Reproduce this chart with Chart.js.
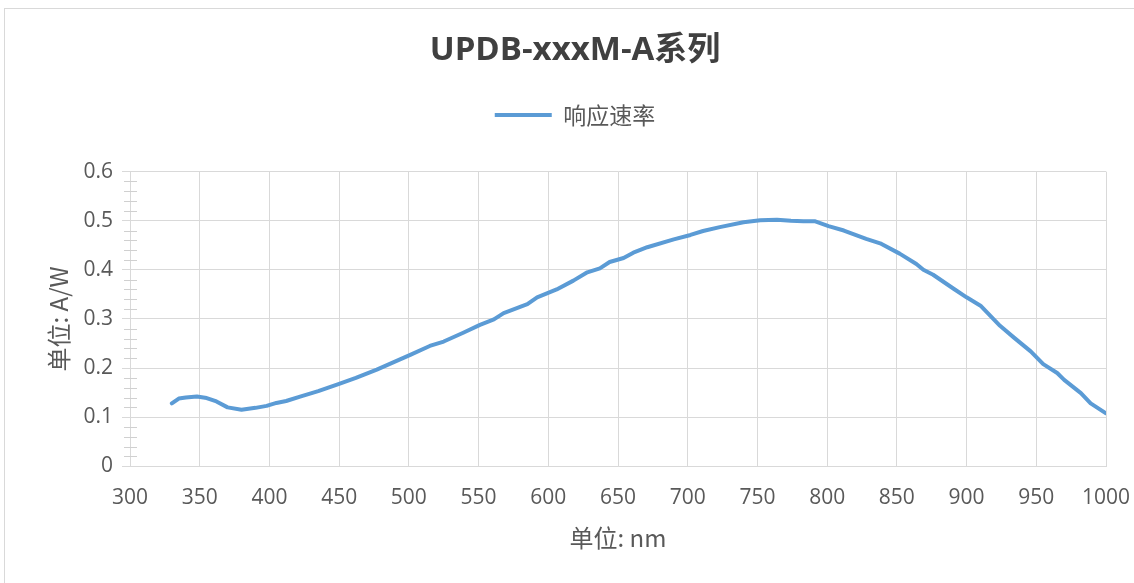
<!DOCTYPE html>
<html>
<head>
<meta charset="utf-8">
<script src="https://cdn.jsdelivr.net/npm/chart.js@4.4.1/dist/chart.umd.min.js"></script>
<style>
html,body{margin:0;padding:0;background:#fff;overflow:hidden;}
#wrap{position:relative;width:1134px;height:583px;overflow:hidden;}
#frame{position:absolute;left:4px;top:8px;width:1200px;height:700px;border:1px solid #d9d9d9;box-sizing:border-box;}
canvas{position:absolute;left:0;top:0;}
</style>
</head>
<body>
<div id="wrap"><div id="frame"></div><canvas id="c" width="1150" height="583"></canvas></div>
<script>
const chartTitle = 'UPDB-xxxM-A系列';
const seriesName = '响应速率';
const xAxisTitle = '单位: nm';
const yAxisTitle = '单位: A/W';

const wavelengths = [330, 335, 340, 348, 355, 362, 370, 380, 390, 398, 405, 412, 422, 435, 450, 462, 477, 490, 501, 515, 525, 539, 551, 561, 568, 585, 592, 606, 618, 628, 637, 644, 654, 661, 671, 690, 702, 711, 723, 740, 752, 764, 774, 783, 791, 801, 812, 828, 838, 852, 864, 869, 876, 891, 900, 910, 924, 934, 946, 955, 965, 970, 982, 989, 1000];
const responsivity = [0.128, 0.138, 0.140, 0.142, 0.139, 0.132, 0.120, 0.115, 0.119, 0.123, 0.129, 0.133, 0.142, 0.153, 0.168, 0.180, 0.197, 0.213, 0.227, 0.245, 0.254, 0.272, 0.288, 0.299, 0.312, 0.330, 0.344, 0.360, 0.378, 0.395, 0.403, 0.416, 0.424, 0.435, 0.446, 0.462, 0.471, 0.479, 0.487, 0.497, 0.501, 0.502, 0.500, 0.499, 0.499, 0.489, 0.480, 0.463, 0.454, 0.433, 0.412, 0.400, 0.390, 0.361, 0.344, 0.327, 0.286, 0.262, 0.234, 0.208, 0.190, 0.176, 0.149, 0.128, 0.108];

const xTickLabels = ['300','350','400','450','500','550','600','650','700','750','800','850','900','950','1000'];
const yTickLabels = ['0','0.1','0.2','0.3','0.4','0.5','0.6'];

const FONT = "'Open Sans', 'Noto Sans CJK SC', sans-serif";
const CJK = "'Noto Sans CJK SC', 'Open Sans', sans-serif";

const minorTicks = {
  id: 'minorTicks',
  beforeDatasetsDraw(chart) {
    const ys = chart.scales.y;
    const ctx = chart.ctx;
    const x0 = Math.round(ys.right);
    ctx.save();
    ctx.strokeStyle = '#d0d0d0';
    ctx.lineWidth = 1;
    ctx.beginPath();
    for (let i = 0; i <= 30; i++) {
      if (i % 5 === 0) continue;
      const py = Math.round(ys.getPixelForValue(i * 0.02)) + 0.5;
      ctx.moveTo(x0 - 6, py);
      ctx.lineTo(x0 + 7, py);
    }
    ctx.stroke();
    ctx.restore();
  }
};

new Chart(document.getElementById('c'), {
  type: 'line',
  data: {
    datasets: [{
      label: seriesName,
      data: wavelengths.map((w, i) => ({x: w, y: responsivity[i]})),
      borderColor: '#5b9bd5',
      backgroundColor: '#5b9bd5',
      borderWidth: 4,
      borderCapStyle: 'round',
      borderJoinStyle: 'round',
      pointRadius: 0,
      tension: 0,
      fill: false
    }]
  },
  options: {
    responsive: false,
    animation: false,
    devicePixelRatio: 1,
    layout: { padding: { left: 44, right: 44, top: 0, bottom: 0 } },
    plugins: {
      title: {
        display: true, text: chartTitle, color: '#404040',
        font: { family: FONT, size: 33, weight: 'bold', lineHeight: 1.2 },
        padding: { top: 31, bottom: 23 }
      },
      subtitle: {
        display: true, text: '', weight: 500,
        font: { size: 1, lineHeight: 1 },
        padding: { top: 0, bottom: 34 }
      },
      legend: {
        display: true,
        labels: {
          usePointStyle: true, pointStyle: 'line', pointStyleWidth: 57,
          color: '#595959', padding: 10,
          font: { family: CJK, size: 23 }
        }
      },
      tooltip: { enabled: false }
    },
    scales: {
      x: {
        type: 'linear', min: 300, max: 1000,
        afterFit: s => { s.height = 116.7; },
        ticks: {
          stepSize: 50, autoSkip: false, maxRotation: 0, padding: 19,
          color: '#595959', font: { family: FONT, size: 21 },
          callback: v => xTickLabels[Math.round((v - 300) / 50)]
        },
        grid: { color: '#d9d9d9', lineWidth: 1, drawTicks: false },
        border: { color: '#d9d9d9', width: 1 },
        title: {
          display: true, text: xAxisTitle, color: '#595959',
          font: { family: CJK, size: 24 },
          padding: { top: 0, bottom: 31 }
        }
      },
      y: {
        type: 'linear', min: 0, max: 0.6,
        afterFit: s => { s.width = 86; },
        ticks: {
          stepSize: 0.1, padding: 9,
          color: '#595959', font: { family: FONT, size: 21 },
          callback: v => yTickLabels[Math.round(v * 10)]
        },
        grid: { color: '#d9d9d9', lineWidth: 1, drawTicks: true, tickLength: 8 },
        border: { color: '#d9d9d9', width: 1 },
        title: {
          display: true, text: yAxisTitle, color: '#595959',
          font: { family: CJK, size: 24 },
          padding: { top: 0, bottom: 0 }
        }
      }
    }
  },
  plugins: [minorTicks]
});
</script>
</body>
</html>
